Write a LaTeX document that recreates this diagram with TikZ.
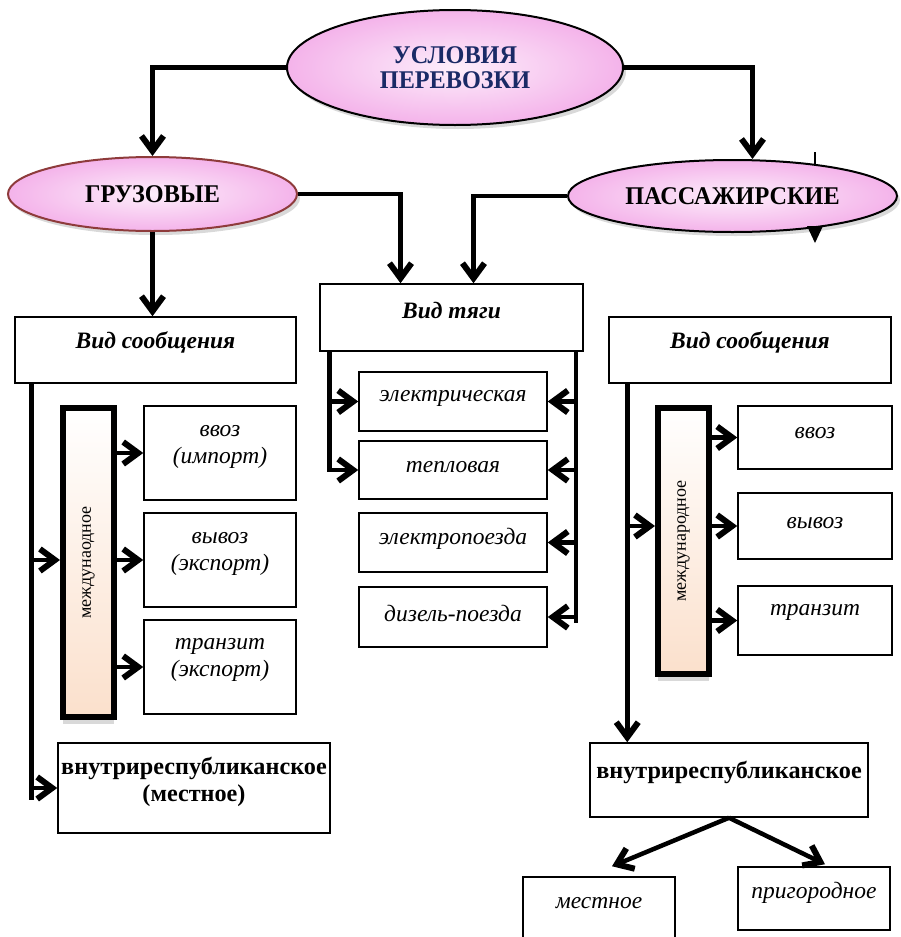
\documentclass[tikz,border=0pt]{standalone}
\usepackage{fontspec}
\setmainfont{Liberation Serif}
\newfontfamily\condfont{Liberation Serif}[FakeStretch=0.95]
\usetikzlibrary{arrows.meta,shapes.geometric,shadows,calc}
\definecolor{pinkin}{HTML}{FDEEFB}
\definecolor{pinkout}{HTML}{F4B3EA}
\definecolor{peach}{HTML}{FBE0CC}
\definecolor{navy}{HTML}{1A2A66}
\definecolor{darkred}{HTML}{8E3B3B}
\begin{document}
\begin{tikzpicture}[x=1pt,y=-1pt,
 line/.style={line width=4.5pt},
 conn/.style={line width=4.5pt,-{Straight Barb[length=15pt,width=22pt,line width=6pt]}},
 box/.style={draw,line width=1.5pt,fill=white,inner sep=0pt},
 ell/.style={ellipse,draw,line width=2pt,inner sep=0pt,inner color=pinkin,outer color=pinkout,
   drop shadow={shadow xshift=3pt,shadow yshift=-4pt,opacity=0.3}},
 vbox/.style={draw,line width=6pt,inner sep=0pt,top color=white,bottom color=peach,
   drop shadow={shadow xshift=0pt,shadow yshift=-7pt,opacity=0.3}},
 it/.style={font=\fontsize{23.5}{27}\selectfont\itshape,align=center},
 bit/.style={font=\fontsize{23.5}{27}\selectfont\bfseries\itshape},
 bt/.style={font=\fontsize{24.2}{27}\selectfont\bfseries,align=center},
 et/.style={font=\condfont\fontsize{25.5}{25.5}\selectfont\bfseries,align=center},
 vt/.style={rotate=90,font=\fontsize{18}{20}\selectfont},
]
\useasboundingbox (0,0) rectangle (901,937);

% ellipses
\node[ell,minimum width=336,minimum height=115,text=navy,et] (top) at (455,67.5) {УСЛОВИЯ\\ПЕРЕВОЗКИ};
\node[ell,minimum width=289,minimum height=74,draw=darkred,et] (gruz) at (152.5,194) {ГРУЗОВЫЕ};
\node[ell,minimum width=329,minimum height=72,et] (pass) at (732.5,196) {ПАССАЖИРСКИЕ};
\draw[line width=2.5pt] (815,152) -- (815,166);
\fill (807,226) -- (823,226) -- (815,243) -- cycle;

% level 2 boxes
\node[box,minimum width=281,minimum height=66] (vs1) at (155.5,350) {};
\node[bit] (vs1t) at (155.5,342) {Вид сообщения};
\node[box,minimum width=263,minimum height=67] (tyagi) at (451.5,317.5) {};
\node[bit] (tyagit) at (451.5,310) {Вид тяги};
\node[box,minimum width=282,minimum height=66] (vs2) at (750,350) {};
\node[bit] (vs2t) at (750,342) {Вид сообщения};

% left column
\node[vbox,minimum width=51,minimum height=309] (mezh1) at (88.5,562.5) {};
\node[vt] (mezh1t) at (mezh1) {междунаодное};
\node[box,minimum width=152,minimum height=94] (b1) at (220,453) {};
\node[it] (b1t) at (220,446.5) {ввоз\\(импорт)};
\node[box,minimum width=152,minimum height=94] (b2) at (220,560) {};
\node[it] (b2t) at (220,553.5) {вывоз\\(экспорт)};
\node[box,minimum width=152,minimum height=94] (b3) at (220,667) {};
\node[it] (b3t) at (220,660) {транзит\\(экспорт)};
\node[box,minimum width=272,minimum height=90] (vn1) at (194,788) {};
\node[bt] (vn1t) at (194,781.5) {внутриреспубликанское\\(местное)};

% middle column
\node[box,minimum width=188,minimum height=59] (e1) at (453,401.5) {};
\node[it] (e1t) at (453,398) {электрическая};
\node[box,minimum width=188,minimum height=58] (e2) at (453,470) {};
\node[it] (e2t) at (453,467) {тепловая};
\node[box,minimum width=188,minimum height=59] (e3) at (453,542.5) {};
\node[it] (e3t) at (453,539) {электропоезда};
\node[box,minimum width=188,minimum height=60] (e4) at (453,617) {};
\node[it] (e4t) at (453,613) {дизель-поезда};

% right column
\node[vbox,minimum width=51,minimum height=266] (mezh2) at (683.5,541) {};
\node[vt] (mezh2t) at (mezh2) {международное};
\node[box,minimum width=154,minimum height=63] (b4) at (815,437.5) {};
\node[it] (b4t) at (815,433) {ввоз};
\node[box,minimum width=154,minimum height=66] (b5) at (815,526) {};
\node[it] (b5t) at (815,523) {вывоз};
\node[box,minimum width=154,minimum height=69] (b6) at (815,620.5) {};
\node[it] (b6t) at (815,612) {транзит};
\node[box,minimum width=278,minimum height=74] (vn2) at (729,780) {};
\node[bt] (vn2t) at (729,772) {внутриреспубликанское};
\node[box,minimum width=152,minimum height=68] (mest) at (599,911) {};
\node[it] (mestt) at (599,903) {местное};
\node[box,minimum width=152,minimum height=63] (prig) at (814,898.5) {};
\node[it] (prigt) at (814,893) {пригородное};

% connectors: top
\draw[conn] (top.west) -| (gruz.north);
\draw[conn] (top.east) -| ([xshift=20pt]pass.north);
\draw[conn] (gruz.east) -| ([xshift=-51pt]tyagi.north);
\draw[conn] (pass.west) -| ([xshift=22pt]tyagi.north);
\draw[conn] (gruz.south) -- (gruz.south |- vs1.north);

% left column connectors
\coordinate (lv) at ([xshift=17pt]vs1.south west);
\coordinate (lvend) at ([yshift=-12pt]lv |- vn1.west);
\draw[line] (lv) -- (lvend);
\draw[conn] (lv |- b2.west) -- (mezh1.west |- b2.west);
\draw[conn] (lv |- vn1.west) -- (vn1.west);
\foreach \n in {b1,b2,b3} \draw[conn] (mezh1.east |- \n.west) -- (\n.west);

% middle connectors
\coordinate (mv) at ([xshift=10pt]tyagi.south west);
\draw[conn] (mv) |- (e2.west);
\draw[conn] (mv |- e1.west) -- (e1.west);
\coordinate (mr) at ([xshift=-8pt]tyagi.south east);
\coordinate (mrend) at ([yshift=-6pt]mr |- e4.east);
\draw[line] (mr) -- (mrend);
\foreach \n in {e1,e2,e3,e4} \draw[conn] (mr |- \n.east) -- (\n.east);

% right column connectors
\coordinate (rv) at ([xshift=19pt]vs2.south west);
\draw[conn] (rv) -- (rv |- vn2.north);
\draw[conn] (rv |- b5.west) -- (mezh2.west |- b5.west);
\foreach \n in {b4,b5,b6} \draw[conn] (mezh2.east |- \n.west) -- (\n.west);

% bottom connectors
\draw[conn] (vn2.south) -- ([xshift=13pt,yshift=10pt]mest.north);
\draw[conn] (vn2.south) -- ([xshift=11pt,yshift=2pt]prig.north);
\end{tikzpicture}
\end{document}
